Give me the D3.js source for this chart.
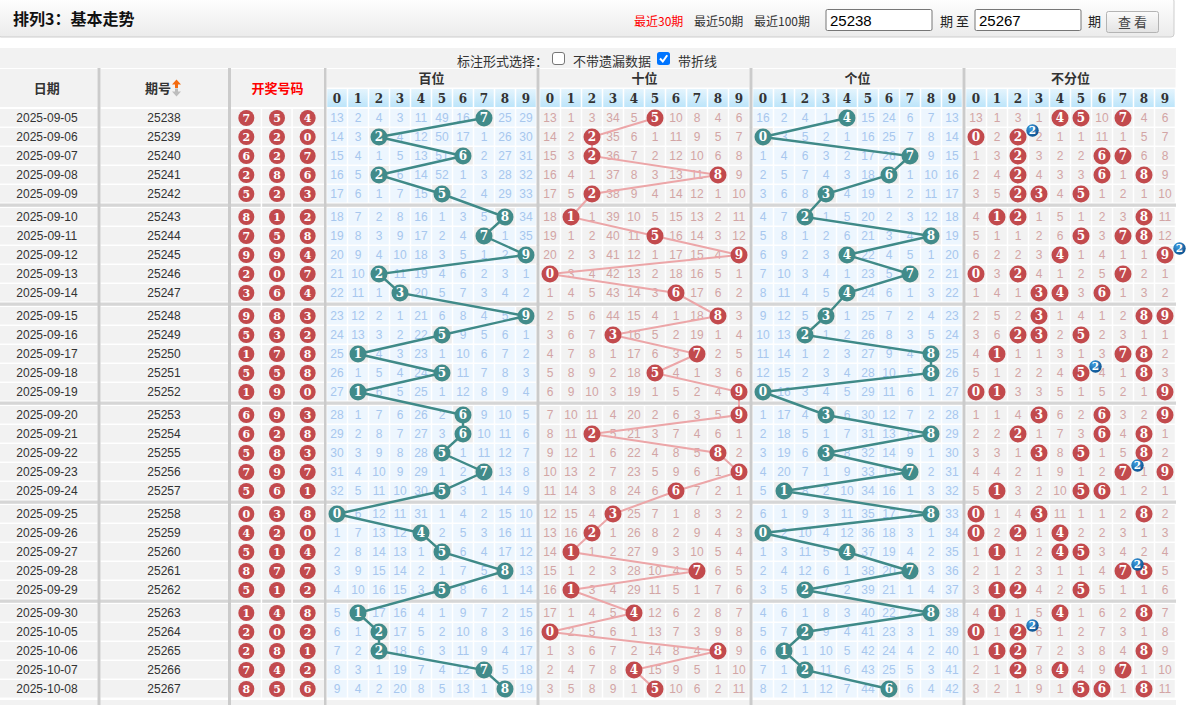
<!DOCTYPE html>
<html>
<head>
<meta charset="utf-8">
<script src="https://cdn.jsdelivr.net/npm/d3@7"></script>
<style>
  body { margin: 0; background: #fff; }
  svg { display: block; }
</style>
</head>
<body>
<div id="chart"></div>
<script>
// ---- data ----
const dates = [
  '2025-09-05', '2025-09-06', '2025-09-07', '2025-09-08', '2025-09-09',
  '2025-09-10', '2025-09-11', '2025-09-12', '2025-09-13', '2025-09-14',
  '2025-09-15', '2025-09-16', '2025-09-17', '2025-09-18', '2025-09-19',
  '2025-09-20', '2025-09-21', '2025-09-22', '2025-09-23', '2025-09-24',
  '2025-09-25', '2025-09-26', '2025-09-27', '2025-09-28', '2025-09-29',
  '2025-09-30', '2025-10-05', '2025-10-06', '2025-10-07', '2025-10-08',
];
const issues = d3.range(25238, 25268).map(String);
const hundreds = [7, 2, 6, 2, 5, 8, 7, 9, 2, 3, 9, 5, 1, 5, 1, 6, 6, 5, 7, 5, 0, 4, 5, 8, 5, 1, 2, 2, 7, 8];
const tens     = [5, 2, 2, 8, 2, 1, 5, 9, 0, 6, 8, 3, 7, 5, 9, 9, 2, 8, 9, 6, 3, 2, 1, 7, 1, 4, 0, 8, 4, 5];
const units    = [4, 0, 7, 6, 3, 2, 8, 4, 7, 4, 3, 2, 8, 8, 0, 3, 8, 3, 7, 1, 8, 0, 4, 7, 2, 8, 2, 1, 2, 6];

// omission counts shown on the first row (25238)
const missStartHundreds = [13, 2, 4, 3, 11, 49, 16, 0, 25, 29];
const missStartTens     = [13, 1, 3, 34, 5, 0, 10, 8, 4, 6];
const missStartUnits    = [16, 2, 4, 1, 0, 15, 24, 6, 7, 13];
const missStartAll      = [13, 1, 3, 1, 0, 0, 10, 0, 4, 6];

const digits = d3.range(10);
const sectionNames = ['百位', '十位', '个位', '不分位'];
const rangeLinks = ['最近30期', '最近50期', '最近100期'];

// ---- derived tables ----
const n = issues.length;
const draws = d3.range(n).map(i => [hundreds[i], tens[i], units[i]]);

function missTable(start, isHit) {
  const rows = [start];
  for (let i = 1; i < n; i++) {
    const prev = rows[i - 1];
    rows.push(digits.map(d => isHit(i, d) ? 0 : prev[d] + 1));
  }
  return rows;
}

const sections = [
  { name: sectionNames[0], pos: hundreds, miss: missTable(missStartHundreds, (i, d) => hundreds[i] === d), theme: 'blue' },
  { name: sectionNames[1], pos: tens, miss: missTable(missStartTens, (i, d) => tens[i] === d), theme: 'grey' },
  { name: sectionNames[2], pos: units, miss: missTable(missStartUnits, (i, d) => units[i] === d), theme: 'blue' },
  { name: sectionNames[3], pos: null, miss: missTable(missStartAll, (i, d) => draws[i].includes(d)), theme: 'grey' },
];

// ---- layout ----
const W = 1188, H = 705;
const sectionStarts = [326.5, 539.5, 752.5, 965.5];
const sectionWidth = 210;
const xScales = sectionStarts.map(s => d3.scaleBand().domain(digits).range([s, s + sectionWidth]));
const ballX = d3.scaleBand().domain([0, 1, 2]).range([231, 323]);

const yRow = d3.scaleLinear().domain([0, 1]).range([108, 127]);
const rowTop = i => yRow(i + Math.floor(i / 5) * 4 / 19);
const rowMid = i => rowTop(i) + 10;

const theme = {
  blue: { bg: '#edf6fe', text: '#a7c7ee', ball: '#418b8a', line: '#3f8a88', lineW: 2.4, hitBg: '#ececec' },
  grey: { bg: '#f2f2f2', text: '#d2a5a5', ball: '#c24a4d', line: '#eca6a8', lineW: 2, hitBg: '#f2f2f2' },
};
const red = '#c24a4d';
const cjk = '"Noto Sans CJK SC", "Noto Sans", sans-serif';
const num = '"Liberation Sans", Arial, sans-serif';
const ballFont = '"DejaVu Serif", serif';

const svg = d3.select('#chart').append('svg')
  .attr('width', W).attr('height', H)
  .attr('viewBox', `0 0 ${W} ${H}`);

const defs = svg.append('defs');
const barGrad = defs.append('linearGradient').attr('id', 'barGrad').attr('x1', 0).attr('y1', 0).attr('x2', 0).attr('y2', 1);
barGrad.append('stop').attr('offset', '0%').attr('stop-color', '#ffffff');
barGrad.append('stop').attr('offset', '100%').attr('stop-color', '#ebebeb');
const hdrGrad = defs.append('linearGradient').attr('id', 'hdrGrad').attr('x1', 0).attr('y1', 0).attr('x2', 0).attr('y2', 1);
hdrGrad.append('stop').attr('offset', '0%').attr('stop-color', '#e4f4fd');
hdrGrad.append('stop').attr('offset', '100%').attr('stop-color', '#bde5fa');
const btnGrad = defs.append('linearGradient').attr('id', 'btnGrad').attr('x1', 0).attr('y1', 0).attr('x2', 0).attr('y2', 1);
btnGrad.append('stop').attr('offset', '0%').attr('stop-color', '#fbfbfb');
btnGrad.append('stop').attr('offset', '100%').attr('stop-color', '#e3e3e3');
const badgeGrad = defs.append('radialGradient').attr('id', 'badgeGrad').attr('cx', '35%').attr('cy', '30%').attr('r', '75%');
badgeGrad.append('stop').attr('offset', '0%').attr('stop-color', '#3f9ee0');
badgeGrad.append('stop').attr('offset', '100%').attr('stop-color', '#0a4f8e');

// ---- top bar ----
const topBar = svg.append('g').attr('class', 'topbar');
topBar.append('rect').attr('x', -2).attr('y', -2).attr('width', 1176).attr('height', 39)
  .attr('rx', 3).attr('fill', 'url(#barGrad)').attr('stroke', '#cdcdcd');
topBar.append('text').attr('x', 13).attr('y', 25)
  .attr('font-family', cjk).attr('font-size', 16).attr('font-weight', 'bold').attr('fill', '#111')
  .text('排列3：基本走势');

topBar.selectAll('text.range').data(rangeLinks).join('text')
  .attr('class', 'range')
  .attr('x', (d, i) => [634, 694, 754][i]).attr('y', 26)
  .attr('font-family', cjk).attr('font-size', 12)
  .attr('fill', (d, i) => i === 0 ? '#f00' : '#333')
  .text(d => d);

const inputs = [{ x: 826, v: issues[0] }, { x: 975, v: issues[n - 1] }];
topBar.selectAll('rect.inp').data(inputs).join('rect')
  .attr('class', 'inp').attr('x', d => d.x).attr('y', 9.5).attr('width', 106).attr('height', 21)
  .attr('rx', 1.5).attr('fill', '#fff').attr('stroke', '#767676');
topBar.selectAll('text.inp').data(inputs).join('text')
  .attr('class', 'inp').attr('x', d => d.x + 4).attr('y', 26)
  .attr('font-family', num).attr('font-size', 15).attr('fill', '#000')
  .text(d => d.v);
topBar.append('text').attr('x', 940).attr('y', 26).attr('font-family', cjk).attr('font-size', 13).attr('fill', '#222').text('期 至');
topBar.append('text').attr('x', 1088).attr('y', 26).attr('font-family', cjk).attr('font-size', 13).attr('fill', '#222').text('期');
topBar.append('rect').attr('x', 1106.5).attr('y', 11.5).attr('width', 52).attr('height', 21)
  .attr('rx', 2).attr('fill', 'url(#btnGrad)').attr('stroke', '#b4b4b4');
topBar.append('text').attr('x', 1132.5).attr('y', 27).attr('text-anchor', 'middle')
  .attr('font-family', cjk).attr('font-size', 13).attr('fill', '#444').text('查  看');

// ---- option row ----
svg.append('rect').attr('x', 0).attr('y', 48).attr('width', 1176).attr('height', 20).attr('fill', '#f2f2f2');
const opt = svg.append('g').attr('font-family', cjk).attr('font-size', 13).attr('fill', '#333');
opt.append('text').attr('x', 457).attr('y', 66).text('标注形式选择：');
opt.append('rect').attr('x', 552.5).attr('y', 52.5).attr('width', 12).attr('height', 12).attr('rx', 2.5)
  .attr('fill', '#fff').attr('stroke', '#767676');
opt.append('text').attr('x', 573).attr('y', 66).text('不带遗漏数据');
opt.append('rect').attr('x', 657).attr('y', 52).attr('width', 13).attr('height', 13).attr('rx', 2.5).attr('fill', '#0075ff');
opt.append('path').attr('d', 'M660,58.5 L662.8,61.5 L667.2,55.2').attr('fill', 'none')
  .attr('stroke', '#fff').attr('stroke-width', 2);
opt.append('text').attr('x', 678).attr('y', 66).text('带折线');

// ---- header ----
const head = svg.append('g').attr('class', 'head');
const leftCols = [
  { x0: 0, x1: 97.5, label: '日期', color: '#333' },
  { x0: 100.5, x1: 228, label: '期号', color: '#333' },
  { x0: 231, x1: 324, label: '开奖号码', color: '#f00' },
];
head.selectAll('rect.lc').data(leftCols).join('rect')
  .attr('class', 'lc').attr('x', d => d.x0).attr('y', 69).attr('width', d => d.x1 - d.x0).attr('height', 38)
  .attr('fill', '#f2f2f2');
head.selectAll('text.lc').data(leftCols).join('text')
  .attr('class', 'lc')
  .attr('x', (d, i) => i === 1 ? 158 : (d.x0 + d.x1) / 2 - (i === 0 ? 2 : 0))
  .attr('y', 88).attr('dy', '0.35em').attr('text-anchor', 'middle')
  .attr('font-family', cjk).attr('font-size', 13).attr('font-weight', 'bold').attr('fill', d => d.color)
  .text(d => d.label);
// sort arrows next to 期号
head.append('path').attr('d', 'M176.5,79.5 L181,84.5 L178,84.5 L178,88 L175,88 L175,84.5 L172,84.5 Z').attr('fill', '#f36a10');
head.append('path').attr('d', 'M176.5,96.5 L181,91.5 L178,91.5 L178,88.5 L175,88.5 L175,91.5 L172,91.5 Z').attr('fill', '#bdbdbd');

sections.forEach((s, k) => {
  const x = xScales[k];
  head.append('rect').attr('x', sectionStarts[k]).attr('y', 69).attr('width', sectionWidth).attr('height', 18.5)
    .attr('fill', '#f2f2f2');
  head.append('text').attr('x', sectionStarts[k] + sectionWidth / 2).attr('y', 78.5).attr('dy', '0.35em')
    .attr('text-anchor', 'middle').attr('font-family', cjk).attr('font-size', 13).attr('font-weight', 'bold')
    .attr('fill', '#333').text(s.name);
  head.selectAll(null).data(digits).join('rect')
    .attr('x', d => x(d) + 0.75).attr('y', 89).attr('width', x.bandwidth() - 1.5).attr('height', 18)
    .attr('fill', 'url(#hdrGrad)');
  head.selectAll(null).data(digits).join('text')
    .attr('x', d => x(d) + x.bandwidth() / 2).attr('y', 98.5).attr('dy', '0.36em')
    .attr('text-anchor', 'middle').attr('font-family', ballFont).attr('font-size', 12).attr('font-weight', 'bold')
    .attr('fill', '#333').text(d => d);
});

// ---- body cells ----
const body = svg.append('g').attr('class', 'body');
const rows = d3.range(n);

// group separator bands
body.selectAll('rect.band').data([5, 10, 15, 20, 25]).join('rect')
  .attr('class', 'band').attr('x', 0).attr('y', i => rowTop(i) - 3.5).attr('width', 1176).attr('height', 3.3)
  .attr('fill', '#d6d6d6');
svg.append('rect').attr('x', 0).attr('y', 700).attr('width', 1176).attr('height', 5).attr('fill', '#f2f2f2');

leftCols.forEach(c => {
  body.selectAll(null).data(rows).join('rect')
    .attr('x', c.x0).attr('y', i => rowTop(i) + 1).attr('width', c.x1 - c.x0).attr('height', 17.5)
    .attr('fill', '#f2f2f2');
});
// white lines between the three draw cells
body.selectAll(null).data([1, 2]).join('rect')
  .attr('x', k => ballX(k) - 1).attr('y', 108).attr('width', 1.5).attr('height', 590).attr('fill', '#fff');

body.selectAll('text.date').data(rows).join('text')
  .attr('class', 'date').attr('x', 47).attr('y', i => rowMid(i)).attr('dy', '0.35em')
  .attr('text-anchor', 'middle').attr('font-family', num).attr('font-size', 12).attr('fill', '#333')
  .text(i => dates[i]);
body.selectAll('text.issue').data(rows).join('text')
  .attr('class', 'issue').attr('x', 164).attr('y', i => rowMid(i)).attr('dy', '0.35em')
  .attr('text-anchor', 'middle').attr('font-family', num).attr('font-size', 12).attr('fill', '#333')
  .text(i => issues[i]);

const drawBalls = body.selectAll('g.draw').data(rows.flatMap(i => draws[i].map((v, k) => ({ i, k, v }))))
  .join('g').attr('class', 'draw')
  .attr('transform', d => `translate(${ballX(d.k) + ballX.bandwidth() / 2},${rowMid(d.i)})`);
drawBalls.append('circle').attr('r', 8).attr('fill', red);
drawBalls.append('text').attr('dy', '0.36em').attr('text-anchor', 'middle')
  .attr('font-family', ballFont).attr('font-size', 11).attr('font-weight', 'bold').attr('fill', '#fff')
  .text(d => d.v);

// ---- trend sections ----
const badgeLayer = [];
sections.forEach((s, k) => {
  const x = xScales[k];
  const t = theme[s.theme];
  const g = svg.append('g').attr('class', 'section');
  const cells = rows.flatMap(i => digits.map(d => ({ i, d, m: s.miss[i][d] })));
  const cx = d => x(d) + x.bandwidth() / 2;

  g.selectAll('rect').data(cells).join('rect')
    .attr('x', c => x(c.d) + 0.75).attr('y', c => rowTop(c.i) + 1)
    .attr('width', x.bandwidth() - 1.5).attr('height', 17.5)
    .attr('fill', c => c.m === 0 ? t.hitBg : t.bg);

  g.selectAll('text.miss').data(cells.filter(c => c.m > 0)).join('text')
    .attr('class', 'miss').attr('x', c => cx(c.d)).attr('y', c => rowMid(c.i)).attr('dy', '0.36em')
    .attr('text-anchor', 'middle').attr('font-family', num).attr('font-size', 12).attr('fill', t.text)
    .text(c => c.m);

  if (s.pos) {
    const line = d3.line().x(i => cx(s.pos[i])).y(i => rowMid(i));
    g.append('path').datum(rows).attr('d', line)
      .attr('fill', 'none').attr('stroke', t.line).attr('stroke-width', t.lineW);
  }

  const hits = cells.filter(c => c.m === 0).map(c => ({
    ...c, count: draws[c.i].filter(v => v === c.d).length, px: cx(c.d), py: rowMid(c.i),
  }));
  const balls = g.selectAll('g.hit').data(hits).join('g').attr('class', 'hit')
    .attr('transform', c => `translate(${c.px},${c.py})`);
  balls.append('circle').attr('r', 8.5).attr('fill', t.ball);
  balls.append('text').attr('dy', '0.36em').attr('text-anchor', 'middle')
    .attr('font-family', ballFont).attr('font-size', 12).attr('font-weight', 'bold').attr('fill', '#fff')
    .text(c => c.d);

  if (!s.pos) badgeLayer.push(...hits.filter(c => c.count > 1));
});

// repeat count badges in 不分位, above every ball
const badges = svg.append('g').attr('class', 'badges').selectAll('g').data(badgeLayer).join('g')
  .attr('transform', c => `translate(${c.px + 14.5},${c.py - 6.5})`);
badges.append('circle').attr('r', 6.2).attr('fill', 'url(#badgeGrad)');
badges.append('text').attr('dy', '0.36em').attr('text-anchor', 'middle')
  .attr('font-family', ballFont).attr('font-size', 10.5).attr('font-weight', 'bold').attr('fill', '#fff')
  .text(c => c.count);

// ---- vertical column separators ----
const seps = [[97.5, 3], [228, 3], [324, 2.5], [536.5, 3], [749.5, 3], [962.5, 3]];
svg.append('g').selectAll('rect').data(seps).join('rect')
  .attr('x', d => d[0]).attr('y', 68).attr('width', d => d[1]).attr('height', H - 68)
  .attr('fill', '#cbcbcb');
</script>
</body>
</html>
